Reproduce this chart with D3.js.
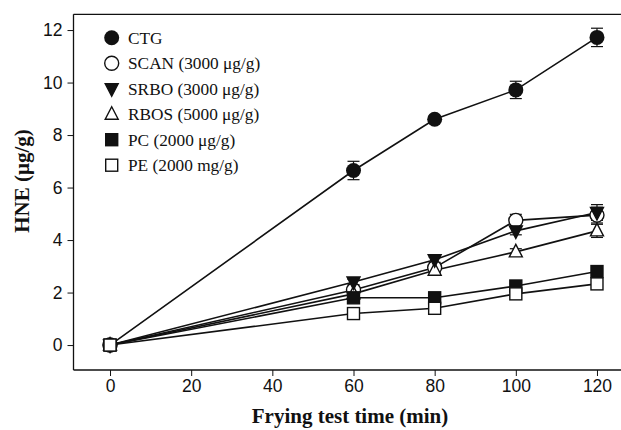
<!DOCTYPE html>
<html><head><meta charset="utf-8">
<script src="https://cdn.jsdelivr.net/npm/d3@7"></script>
<style>body{margin:0;background:#fff}svg{display:block}</style>
</head><body>
<script>
const times = [0, 60, 80, 100, 120];
const seriesNames = ["CTG", "SCAN (3000 μg/g)", "SRBO (3000 μg/g)", "RBOS (5000 μg/g)", "PC (2000 μg/g)", "PE (2000 mg/g)"];
const ctg  = [0, 6.65, 8.6, 9.72, 11.72];
const scan = [0, 2.1, 2.95, 4.75, 4.95];
const srbo = [0, 2.4, 3.25, 4.35, 5.05];
const rbos = [0, 1.95, 2.85, 3.55, 4.35];
const pc   = [0, 1.8, 1.8, 2.25, 2.8];
const pe   = [0, 1.2, 1.4, 1.95, 2.33];
const ctgErr  = [0.1, 0.35, 0.12, 0.33, 0.35];
const scanErr = [0.1, 0.15, 0.1, 0.23, 0.3];
const srboErr = [0.1, 0.1, 0.1, 0.15, 0.3];
const rbosErr = [0.1, 0.1, 0.1, 0.12, 0.25];
const pcErr   = [0.1, 0.08, 0.08, 0.1, 0.1];
const peErr   = [0.1, 0.08, 0.08, 0.1, 0.1];
const xTicks = [0, 20, 40, 60, 80, 100, 120];
const yTicks = [0, 2, 4, 6, 8, 10, 12];

const W = 621, H = 430;
const svg = d3.select("body").append("svg").attr("width", W).attr("height", H);
const x = d3.scaleLinear().domain([-9, 130]).range([73.5, 73.5 + 139 * 4.058]);
const y = d3.scaleLinear().domain([-0.95, 12.6]).range([370, 14.3]);

const series = [
  {name: seriesNames[0], v: ctg,  e: ctgErr,  shape: "circle", fill: "#111"},
  {name: seriesNames[1], v: scan, e: scanErr, shape: "circle", fill: "#fff"},
  {name: seriesNames[3], v: rbos, e: rbosErr, shape: "up",     fill: "#fff"},
  {name: seriesNames[2], v: srbo, e: srboErr, shape: "down",   fill: "#111"},
  {name: seriesNames[4], v: pc,   e: pcErr,   shape: "square", fill: "#111"},
  {name: seriesNames[5], v: pe,   e: peErr,   shape: "square", fill: "#fff"}
];

function drawMarker(g, shape, fill, cx, cy) {
  const sw = 1.4;
  if (shape === "circle") {
    g.append("circle").attr("cx", cx).attr("cy", cy).attr("r", fill === "#111" ? 7.5 : 7)
      .attr("fill", fill).attr("stroke", "#111").attr("stroke-width", fill === "#111" ? 0 : sw);
  } else if (shape === "square") {
    const s = 12;
    g.append("rect").attr("x", cx - s/2).attr("y", cy - s/2).attr("width", s).attr("height", s)
      .attr("fill", fill).attr("stroke", "#111").attr("stroke-width", sw);
  } else {
    const w = 13, h = 12.5;
    const d = shape === "up"
      ? `M${cx},${cy - h*0.6} L${cx + w/2},${cy + h*0.4} L${cx - w/2},${cy + h*0.4} Z`
      : `M${cx},${cy + h*0.6} L${cx + w/2},${cy - h*0.4} L${cx - w/2},${cy - h*0.4} Z`;
    g.append("path").attr("d", d).attr("fill", fill).attr("stroke", "#111").attr("stroke-width", sw);
  }
}

svg.append("line").attr("x1", 73.5).attr("x2", W).attr("y1", 14.3).attr("y2", 14.3).attr("stroke", "#111").attr("stroke-width", 1.3);

const xAxis = svg.append("g").attr("transform", "translate(0,370)")
  .call(d3.axisBottom(x).tickValues(xTicks).tickSize(6).tickPadding(4).tickSizeOuter(0));
const yAxis = svg.append("g").attr("transform", "translate(73.5,0)")
  .call(d3.axisLeft(y).tickValues(yTicks).tickSize(6).tickPadding(5).tickSizeOuter(0));
[xAxis, yAxis].forEach(a => {
  a.select(".domain").attr("stroke", "#111").attr("stroke-width", 1.3);
  a.selectAll(".tick line").attr("stroke", "#111").attr("stroke-width", 1);
  a.selectAll("text").attr("font-family", "Liberation Sans, Arial, sans-serif").attr("font-size", 17.5).attr("fill", "#111");
});
xAxis.select(".domain").attr("d", `M${x(-9)},0H${W}`);
yAxis.select(".domain").attr("d", `M0,${y(-0.95)}V${y(12.6)}`);

const line = d3.line().x((d, i) => x(times[i])).y(d => y(d));
const plot = svg.append("g");
series.forEach(s => {
  plot.append("path").attr("d", line(s.v)).attr("fill", "none").attr("stroke", "#111").attr("stroke-width", 1.6);
});
series.forEach(s => {
  s.v.forEach((v, i) => {
    const cx = x(times[i]);
    const y1 = y(v - s.e[i]), y2 = y(v + s.e[i]);
    plot.append("line").attr("x1", cx).attr("x2", cx).attr("y1", y1).attr("y2", y2).attr("stroke", "#111").attr("stroke-width", 1.2);
    [y1, y2].forEach(yy => plot.append("line").attr("x1", cx - 6).attr("x2", cx + 6).attr("y1", yy).attr("y2", yy).attr("stroke", "#111").attr("stroke-width", 1.2));
  });
});
series.forEach(s => {
  s.v.forEach((v, i) => drawMarker(plot, s.shape, s.fill, x(times[i]), y(v)));
});

const legendOrder = [0, 1, 3, 2, 4, 5];
const lg = svg.append("g");
legendOrder.forEach((si, r) => {
  const s = series[si];
  const cy = 37.7 + r * 25.5;
  drawMarker(lg, s.shape, s.fill, 111.7, cy);
  lg.append("text").attr("x", 128).attr("y", cy + 6).text(s.name)
    .attr("font-family", "Liberation Serif, Times New Roman, serif").attr("font-size", 17.3).attr("fill", "#111");
});

svg.append("text").attr("x", 350).attr("y", 423).attr("text-anchor", "middle")
  .attr("font-family", "Liberation Serif, Times New Roman, serif").attr("font-weight", "bold").attr("font-size", 21)
  .attr("fill", "#111").text("Frying test time (min)");
svg.append("text").attr("transform", "translate(29,181) rotate(-90)").attr("text-anchor", "middle")
  .attr("font-family", "Liberation Serif, Times New Roman, serif").attr("font-weight", "bold").attr("font-size", 21)
  .attr("fill", "#111").text("HNE (μg/g)");
</script>
</body></html>
